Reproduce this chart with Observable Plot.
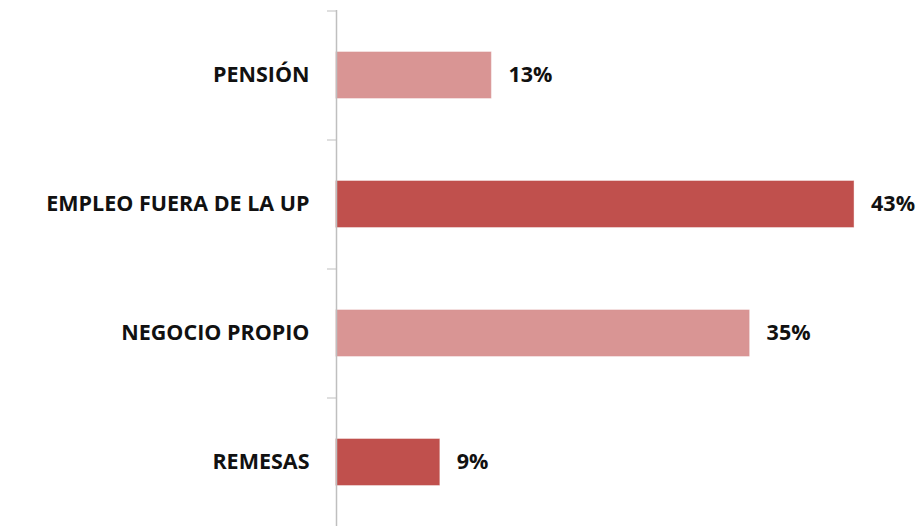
<!DOCTYPE html>
<html>
<head>
<meta charset="utf-8">
<script src="https://cdn.jsdelivr.net/npm/d3@7"></script>
<script src="https://cdn.jsdelivr.net/npm/@observablehq/plot@0.6"></script>
<style>
  html, body { margin: 0; padding: 0; background: #ffffff; }
  #chart svg { display: block; }
</style>
</head>
<body>
<div id="chart"></div>
<script>
const categories = ["PENSIÓN", "EMPLEO FUERA DE LA UP", "NEGOCIO PROPIO", "REMESAS"];
const values = [12.9, 43.1, 34.4, 8.6];
const valueLabels = ["13%", "43%", "35%", "9%"];
const barColors = ["#d99594", "#c0504d", "#d99594", "#c0504d"];

const data = categories.map((c, i) => ({cat: c, value: values[i], label: valueLabels[i], color: barColors[i]}));

const font = "'Open Sans', Lato, sans-serif";
const step = (526 - 10) / 4;

const chart = Plot.plot({
  width: 922,
  height: 526,
  marginLeft: 336,
  marginRight: 0,
  marginTop: 10,
  marginBottom: 0,
  style: {fontFamily: font, background: "#ffffff"},
  x: {domain: [0, 48.8], axis: null},
  y: {domain: categories, paddingInner: 0.644, paddingOuter: 0.322, label: null},
  marks: [
    Plot.barX(data, {x: "value", y: "cat", fill: "color", stroke: "color", strokeOpacity: 0.6}),
    Plot.text(data, {x: "value", y: "cat", text: "label", dx: 17, textAnchor: "start", fontSize: 21.5, fontWeight: "bold", fill: "#111"}),
    Plot.axisY({tickSize: 0, tickPadding: 27, fontSize: 21.5, fontWeight: "bold", color: "#111"}),
    Plot.axisY({tickSize: 9, tickFormat: () => "", dy: -step / 2, stroke: "#bfbfbf"}),
    Plot.ruleX([0], {stroke: "#bfbfbf", strokeWidth: 1.5})
  ]
});
document.getElementById("chart").appendChild(chart);
</script>
</body>
</html>
